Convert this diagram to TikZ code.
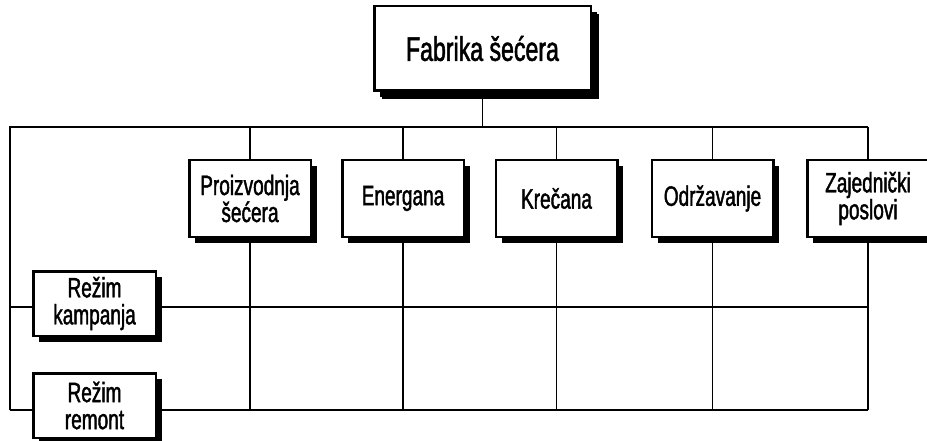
\documentclass[tikz,border=0pt]{standalone}
\usepackage{fontspec}
\setmainfont[FakeStretch=0.68,FakeBold=1.5]{Liberation Sans}
\usetikzlibrary{shadows,backgrounds}
\begin{document}
\begin{tikzpicture}[x=1pt,y=-1pt,
  unit/.style={draw, line width=2.5pt, fill=white, align=center, inner sep=0pt,
    drop shadow={fill=black, opacity=1, shadow xshift=6pt, shadow yshift=-6pt},
    font=\fontsize{28}{27}\selectfont},
  dept/.style={unit, minimum width=121.5pt, minimum height=76.5pt},
  mode/.style={unit, minimum width=122.5pt, minimum height=64.5pt},
  head/.style={unit, minimum width=216.5pt, minimum height=84.5pt,
    drop shadow={fill=black, opacity=1, shadow xshift=8pt, shadow yshift=-8pt},
    font=\fontsize{34}{34}\selectfont},
  wire/.style={line width=1.3pt}]
\useasboundingbox (0,0) rectangle (927,441);

% grid corners
\coordinate (tl) at (10,127);
\coordinate (tr) at (868,127);
\coordinate (ml) at (10,307);
\coordinate (mr) at (868,307);
\coordinate (bl) at (10,410);
\coordinate (br) at (868,410);

% organisation units
\node[head] (fab) at (482.5,48.5) {Fabrika šećera};
\node[dept] (pro) at (250,198.5) {Proizvodnja\\šećera};
\node[dept] (ene) at (403,198.5) {Energana};
\node[dept] (kre) at (556.5,198.5) {Krečana};
\node[dept] (odr) at (712.5,198.5) {Održavanje};
\node[dept] (zaj) at (868,198.5) {Zajednički\\poslovi};
\node[mode] (kam) at (94.5,303.5) {Režim\\kampanja};
\node[mode] (rem) at (94.5,405.5) {Režim\\remont};

\begin{scope}[on background layer]
  % outer frame and row lines
  \draw[wire] (fab.south) -- (fab.south |- tl);
  \draw[wire] (bl) -- (tl) -- (tr);
  \draw[wire] (ml) -- (mr);
  \draw[wire] (bl) -- (br);
  % department columns
  \foreach \d in {pro,ene,kre,odr,zaj}{
    \draw[wire] (\d.north |- tl) -- (\d.north);
    \draw[wire] (\d.south) -- (\d.south |- bl);
  }
\end{scope}
\end{tikzpicture}
\end{document}
